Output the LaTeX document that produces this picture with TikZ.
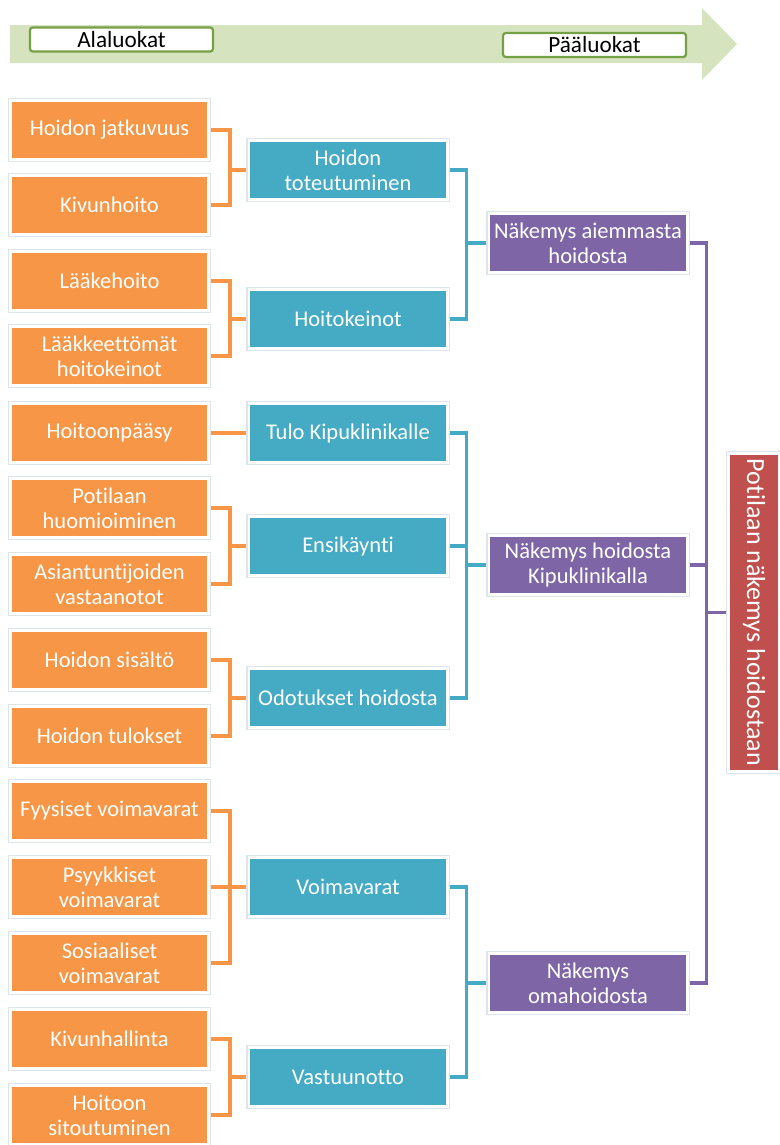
\documentclass[tikz,border=0pt]{standalone}
\usepackage{fontspec}
\setmainfont[Ligatures=NoCommon, RawFeature={-liga;-calt}]{Carlito}
\usetikzlibrary{positioning, backgrounds}
\definecolor{leaforange}{HTML}{F79646}
\definecolor{subaqua}{HTML}{45AAC4}
\definecolor{mainpurple}{HTML}{7D65A6}
\definecolor{topred}{HTML}{C0504D}
\definecolor{arrowgreen}{HTML}{D5E4BE}
\definecolor{headgreen}{HTML}{76A045}
\definecolor{boxedge}{HTML}{DCE4EC}
\tikzset{
  catbox/.style={rectangle, fill=#1, draw=white, line width=2.1pt,
                 preaction={draw=boxedge, line width=3.6pt},
                 minimum width=4.95cm, minimum height=1.475cm, inner sep=1pt,
                 outer sep=0pt, align=center, text=white,
                 font=\fontsize{16}{18}\selectfont},
  leafbox/.style={catbox=leaforange},
  subbox/.style={catbox=subaqua},
  mainbox/.style={catbox=mainpurple},
  topbox/.style={catbox=topred, minimum width=1.275cm, minimum height=7.95cm,
                 font=\fontsize{18.5}{20}\selectfont},
  headbox/.style={rectangle, draw=headgreen, line width=1.6pt, fill=white,
                  rounded corners=2pt, minimum width=4.575cm, minimum height=0.6cm,
                  inner sep=0pt, font=\fontsize{16.5}{18}\selectfont},
  olink/.style={draw=leaforange, line width=2.5pt},
  alink/.style={draw=subaqua, line width=2.5pt},
  plink/.style={draw=mainpurple, line width=2.5pt},
}

\begin{document}
\begin{tikzpicture}[x=0.025cm, y=-0.025cm]
  \useasboundingbox (0,0) rectangle (779,1145);

  % --- header arrow ---
  \fill[arrowgreen] (10,25) -- (702,25) -- (702,8) -- (737,44) -- (702,80)
                    -- (702,63) -- (10,63) -- cycle;
  \node[headbox] (alaluokat) at (121.5,39.5) {Alaluokat};
  \node[headbox] (paaluokat) at (594.5,45) {Pääluokat};

  % --- sub categories (left column) ---
  \node[leafbox] (jatkuvuus)   at (109.5,130)  {Hoidon jatkuvuus};
  \node[leafbox] (kivunhoito)  at (109.5,205)  {Kivunhoito};
  \node[leafbox] (laakehoito)  at (109.5,281)  {Lääkehoito};
  \node[leafbox] (laakkeeton)  at (109.5,356)  {Lääkkeettömät\\hoitokeinot};
  \node[leafbox] (paasy)       at (109.5,433)  {Hoitoonpääsy};
  \node[leafbox] (huomioiminen) at (109.5,508) {Potilaan\\huomioiminen};
  \node[leafbox] (asiantuntijat) at (109.5,584) {Asiantuntijoiden\\vastaanotot};
  \node[leafbox] (sisalto)     at (109.5,660)  {Hoidon sisältö};
  \node[leafbox] (tulokset)    at (109.5,736)  {Hoidon tulokset};
  \node[leafbox] (fyysiset)    at (109.5,811)  {Fyysiset voimavarat};
  \node[leafbox] (psyykkiset)  at (109.5,887)  {Psyykkiset\\voimavarat};
  \node[leafbox] (sosiaaliset) at (109.5,963)  {Sosiaaliset\\voimavarat};
  \node[leafbox] (hallinta)    at (109.5,1039) {Kivunhallinta};
  \node[leafbox] (sitoutuminen) at (109.5,1115) {Hoitoon\\sitoutuminen};

  % --- middle column ---
  \node[subbox] (toteutuminen) at (348,170)  {Hoidon\\toteutuminen};
  \node[subbox] (hoitokeinot)  at (348,319)  {Hoitokeinot};
  \node[subbox] (tulo)         at (348,433)  {Tulo Kipuklinikalle};
  \node[subbox] (ensikaynti)   at (348,546)  {Ensikäynti};
  \node[subbox] (odotukset)    at (348,698)  {Odotukset hoidosta};
  \node[subbox] (voimavarat)   at (348,887)  {Voimavarat};
  \node[subbox] (vastuunotto)  at (348,1077) {Vastuunotto};

  % --- main categories ---
  \node[mainbox] (aiempi)      at (588,243) {Näkemys aiemmasta\\hoidosta};
  \node[mainbox] (kipuklinikka) at (588,565) {Näkemys hoidosta\\Kipuklinikalla};
  \node[mainbox] (omahoito)    at (588,983) {Näkemys\\omahoidosta};

  \node[topbox] (potilas) at (754,612.5) {\rotatebox{-90}{Potilaan näkemys hoidostaan}};

  % --- connectors ---
  \begin{scope}[on background layer]
    \foreach \leaf/\sub in {jatkuvuus/toteutuminen, kivunhoito/toteutuminen,
        laakehoito/hoitokeinot, laakkeeton/hoitokeinot, paasy/tulo,
        huomioiminen/ensikaynti, asiantuntijat/ensikaynti,
        sisalto/odotukset, tulokset/odotukset,
        fyysiset/voimavarat, psyykkiset/voimavarat, sosiaaliset/voimavarat,
        hallinta/vastuunotto, sitoutuminen/vastuunotto}
      \draw[olink] (\leaf.east) -- ++(21.5,0) |- (\sub.west);
    \foreach \sub/\main in {toteutuminen/aiempi, hoitokeinot/aiempi,
        tulo/kipuklinikka, ensikaynti/kipuklinikka, odotukset/kipuklinikka,
        voimavarat/omahoito, vastuunotto/omahoito}
      \draw[alink] (\sub.east) -- ++(19.5,0) |- (\main.west);
    \foreach \main in {aiempi, kipuklinikka, omahoito}
      \draw[plink] (\main.east) -- ++(19.5,0) |- (potilas.west);
  \end{scope}

\end{tikzpicture}
\end{document}
